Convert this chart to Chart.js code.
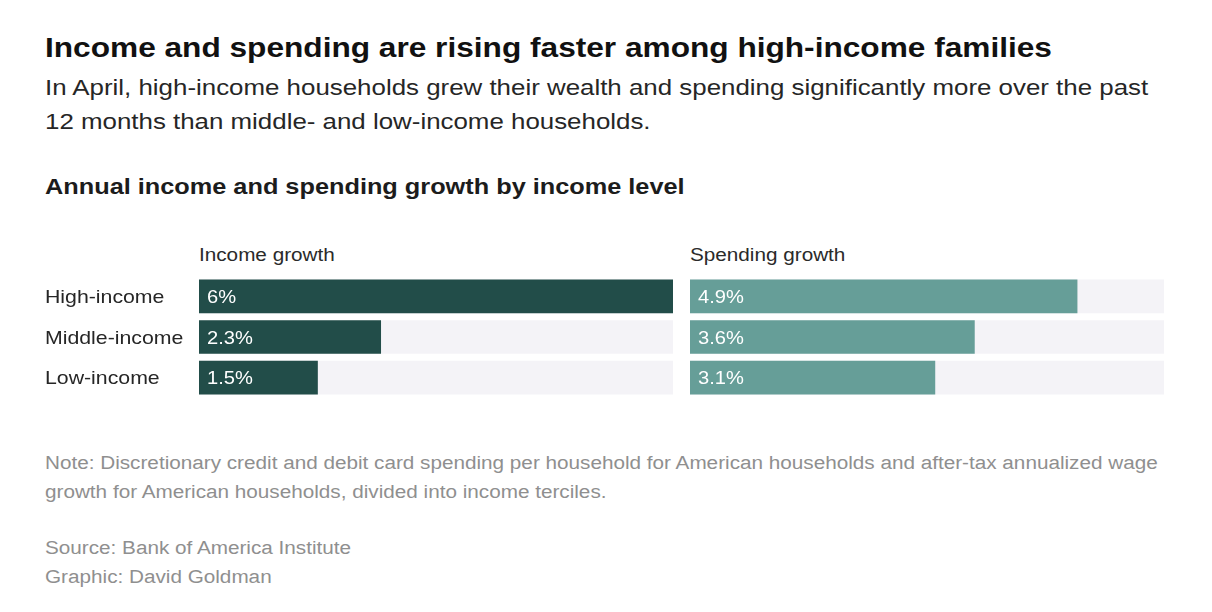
<!DOCTYPE html>
<html>
<head>
<meta charset="utf-8">
<script src="https://cdn.jsdelivr.net/npm/chart.js@4"></script>
<style>
  html, body { margin:0; padding:0; background:#fff; }
  body { width:1212px; height:612px; position:relative; overflow:hidden; font-family:"Liberation Sans", Arial, sans-serif; color:#262626; }
  .t { position:absolute; white-space:nowrap; transform-origin:0 0; transform:scaleX(1.15); }
  #title { left:45px; top:34px; font-size:27.5px; line-height:27.5px; font-weight:bold; color:#111; }
  #sub { left:45px; top:70.7px; font-size:22.5px; line-height:34px; color:#262626; }
  #head { left:45px; top:176.4px; font-size:22px; line-height:22px; font-weight:bold; color:#1c1c1c; }
  .ph { top:245.5px; font-size:18px; line-height:18px; color:#2a2a2a; }
  .note { left:45px; font-size:18px; line-height:29px; color:#8f8f8f; }
  .cw { position:absolute; }
</style>
</head>
<body>
<div class="t" id="title">Income and spending are rising faster among high-income families</div>
<div class="t" id="sub">In April, high-income households grew their wealth and spending significantly more over the past<br>12 months than middle- and low-income households.</div>
<div class="t" id="head">Annual income and spending growth by income level</div>
<div class="t ph" style="left:199px">Income growth</div>
<div class="t ph" style="left:690px">Spending growth</div>
<div class="cw" style="left:45px; top:276px; width:628px; height:122px;"><canvas id="c1"></canvas></div>
<div class="cw" style="left:690px; top:276px; width:474px; height:122px;"><canvas id="c2"></canvas></div>
<div class="t note" style="top:449px">Note: Discretionary credit and debit card spending per household for American households and after-tax annualized wage<br>growth for American households, divided into income terciles.</div>
<div class="t note" style="top:534px">Source: Bank of America Institute<br>Graphic: David Goldman</div>
<script>
const categories = ['High-income', 'Middle-income', 'Low-income'];
const incomeGrowth = [6, 2.3, 1.5];
const spendingGrowth = [4.9, 3.6, 3.1];
const trackValues = [6, 6, 6];
const axisMax = 6;

const STRETCH = 1.15;
const FONT = '"Liberation Sans", Arial, sans-serif';

function stretchedText(ctx, text, x, y) {
  ctx.save();
  ctx.translate(x, y);
  ctx.scale(STRETCH, 1);
  ctx.fillText(text, 0, 0);
  ctx.restore();
}

const barText = {
  id: 'barText',
  afterDatasetsDraw(chart, args, opts) {
    const ctx = chart.ctx;
    const meta = chart.getDatasetMeta(0);
    const data = chart.data.datasets[0].data;
    const yScale = chart.scales.y;
    ctx.save();
    ctx.textBaseline = 'alphabetic';
    ctx.textAlign = 'left';
    ctx.fillStyle = '#ffffff';
    ctx.font = '17.5px ' + FONT;
    meta.data.forEach((bar, i) => {
      stretchedText(ctx, data[i] + '%', bar.base + 8, bar.y + 6.5);
    });
    if (opts.showCategories) {
      ctx.fillStyle = '#262626';
      ctx.font = '18.5px ' + FONT;
      chart.data.labels.forEach((lab, i) => {
        stretchedText(ctx, lab, 0, yScale.getPixelForValue(i) + 6.8);
      });
    }
    ctx.restore();
  }
};

function makeChart(id, values, color, showCategories) {
  return new Chart(document.getElementById(id), {
    type: 'bar',
    data: {
      labels: categories,
      datasets: [
        { data: values, backgroundColor: color, barThickness: 33, grouped: false, order: 0 },
        { data: trackValues, backgroundColor: '#f4f3f7', barThickness: 33, grouped: false, order: 1 }
      ]
    },
    options: {
      indexAxis: 'y',
      responsive: true,
      maintainAspectRatio: false,
      animation: false,
      layout: { padding: { left: showCategories ? 154 : 0, right: 0, top: 0, bottom: 0 } },
      plugins: {
        legend: { display: false },
        tooltip: { enabled: false },
        barText: { showCategories: showCategories }
      },
      scales: {
        x: { min: 0, max: axisMax, display: false },
        y: { display: false }
      }
    },
    plugins: [barText]
  });
}

makeChart('c1', incomeGrowth, '#224d49', true);
makeChart('c2', spendingGrowth, '#669e98', false);
</script>
</body>
</html>
